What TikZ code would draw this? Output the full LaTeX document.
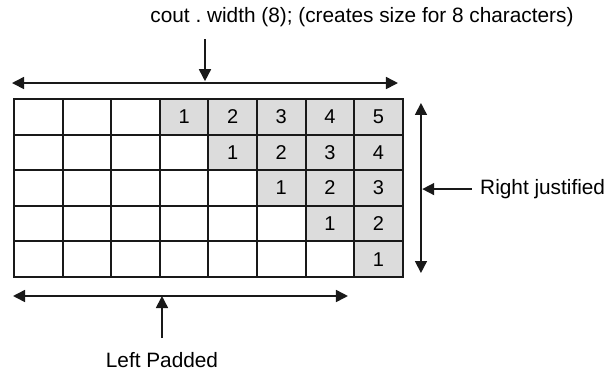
\documentclass[tikz,border=0pt]{standalone}
\usepackage{fontspec}
\setmainfont{Liberation Sans}
\usepackage{xcolor}
\definecolor{grisCelda}{RGB}{220,220,220}
\definecolor{negroLinea}{RGB}{25,25,25}
\usepackage{tikz}
\usetikzlibrary{arrows.meta, positioning, calc}

\tikzset{
  celda/.style={fill=white,draw=negroLinea,line width=1.4pt},
  celdaGris/.style={fill=grisCelda,draw=negroLinea,line width=1.4pt},
  num/.style={font=\fontsize{15}{17}\selectfont},
  etiqueta/.style={font=\fontsize{15.6}{18}\selectfont\frenchspacing,inner sep=0pt},
  flechaDoble/.style={draw=negroLinea,line width=1.2pt,
    {Triangle[length=9pt,width=9pt]}-{Triangle[length=9pt,width=9pt]}},
  flechaSimple/.style={draw=negroLinea,line width=1.2pt,
    -{Triangle[length=9pt,width=9pt]}}
}

\begin{document}
\begin{tikzpicture}[x=36.45pt,y=26.7pt]
  \useasboundingbox (-0.288,-2.640) rectangle (12.243,7.781);
  % Fila 4
  \draw[celda] (0,4) rectangle (1,5) (1,4) rectangle (2,5) (2,4) rectangle (3,5);
  \draw[celdaGris] (3,4) rectangle (4,5); \node[num] at (3.5,4.5) {1};
  \draw[celdaGris] (4,4) rectangle (5,5); \node[num] at (4.5,4.5) {2};
  \draw[celdaGris] (5,4) rectangle (6,5); \node[num] at (5.5,4.5) {3};
  \draw[celdaGris] (6,4) rectangle (7,5); \node[num] at (6.5,4.5) {4};
  \draw[celdaGris] (7,4) rectangle (8,5); \node[num] at (7.5,4.5) {5};
  % Fila 3
  \draw[celda] (0,3) rectangle (1,4) (1,3) rectangle (2,4) (2,3) rectangle (3,4)
    (3,3) rectangle (4,4);
  \draw[celdaGris] (4,3) rectangle (5,4); \node[num] at (4.5,3.5) {1};
  \draw[celdaGris] (5,3) rectangle (6,4); \node[num] at (5.5,3.5) {2};
  \draw[celdaGris] (6,3) rectangle (7,4); \node[num] at (6.5,3.5) {3};
  \draw[celdaGris] (7,3) rectangle (8,4); \node[num] at (7.5,3.5) {4};
  % Fila 2
  \draw[celda] (0,2) rectangle (1,3) (1,2) rectangle (2,3) (2,2) rectangle (3,3)
    (3,2) rectangle (4,3) (4,2) rectangle (5,3);
  \draw[celdaGris] (5,2) rectangle (6,3); \node[num] at (5.5,2.5) {1};
  \draw[celdaGris] (6,2) rectangle (7,3); \node[num] at (6.5,2.5) {2};
  \draw[celdaGris] (7,2) rectangle (8,3); \node[num] at (7.5,2.5) {3};
  % Fila 1
  \draw[celda] (0,1) rectangle (1,2) (1,1) rectangle (2,2) (2,1) rectangle (3,2)
    (3,1) rectangle (4,2) (4,1) rectangle (5,2) (5,1) rectangle (6,2);
  \draw[celdaGris] (6,1) rectangle (7,2); \node[num] at (6.5,1.5) {1};
  \draw[celdaGris] (7,1) rectangle (8,2); \node[num] at (7.5,1.5) {2};
  % Fila 0
  \draw[celda] (0,0) rectangle (1,1) (1,0) rectangle (2,1) (2,0) rectangle (3,1)
    (3,0) rectangle (4,1) (4,0) rectangle (5,1) (5,0) rectangle (6,1)
    (6,0) rectangle (7,1);
  \draw[celdaGris] (7,0) rectangle (8,1); \node[num] at (7.5,0.5) {1};
  % Ancho total (arriba)
  \node[etiqueta] (anchoTxt) at (7.16,7.30) {cout . width (8); (creates size for 8 characters)};
  \coordinate (anchoIzq) at (-0.041,5.449);
  \coordinate (anchoDer) at (7.901,5.449);
  \coordinate (bajaIni) at (3.93,6.685);
  \coordinate (bajaFin) at (3.93,5.50);
  \draw[flechaDoble] (anchoIzq) -- (anchoDer);
  \draw[flechaSimple] (bajaIni) -- (bajaFin);
  % Justificado a la derecha
  \coordinate (altoArr) at (8.374,4.888);
  \coordinate (altoAbj) at (8.374,0.112);
  \draw[flechaDoble] (altoArr) -- (altoAbj);
  \node[etiqueta,anchor=west] (derTxt) at (9.588,2.47) {Right justified};
  \coordinate (derFin) at (8.40,2.47);
  \draw[flechaSimple,shorten <=6pt] (derTxt.west) -- (derFin);
  % Relleno a la izquierda (abajo)
  \coordinate (izqIni) at (-0.02,-0.534);
  \coordinate (izqFin) at (6.872,-0.534);
  \draw[flechaDoble] (izqIni) -- (izqFin);
  \node[etiqueta] (izqTxt) at (3.045,-2.33) {Left Padded};
  \draw[flechaSimple,shorten <=10.5pt] (izqTxt.north) -- (izqTxt.north |- izqIni);
\end{tikzpicture}
\end{document}
